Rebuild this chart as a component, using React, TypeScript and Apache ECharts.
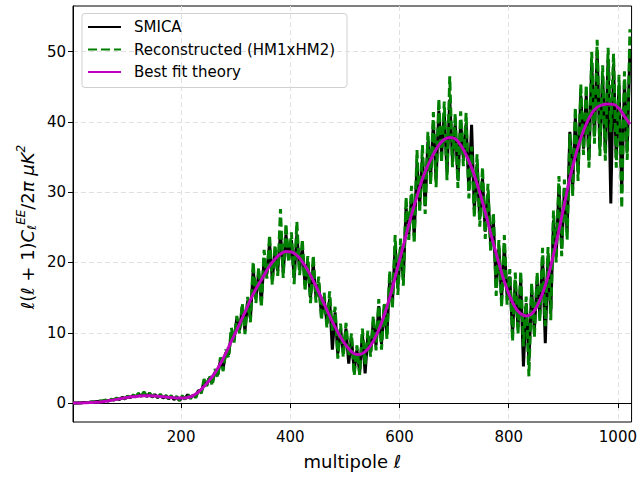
import React, { useEffect, useRef } from "react";
import * as echarts from "echarts";

const ELL_START = 2;
const DATA_STEP = 5;
const THEORY_STEP = 10;

const X_TICKS = [200, 400, 600, 800, 1000];
const Y_TICKS = [0, 10, 20, 30, 40, 50];

const SMICA = [
  0.0, 0.01, 0.02, 0.04, 0.06, 0.08, 0.1, 0.14, 0.17, 0.22, 0.27, 0.3,
  0.38, 0.28, 0.5, 0.42, 0.66, 0.5, 0.8, 0.6, 0.95, 0.75, 1.1, 0.85, 1.3, 0.95, 1.45, 0.9, 1.35, 0.85, 1.2, 0.75, 1.15, 0.7, 1.0, 0.6, 0.95, 0.5, 0.85, 0.35,
  0.9, 0.6, 1.2, 0.7, 1.1, 0.9, 1.8, 1.6, 3.0, 2.6, 3.6, 2.9, 4.4, 4.0, 6.1, 5.0, 7.2, 6.9, 9.9, 9.0,
  12.0, 10.4, 13.6, 10.3, 14.6, 12.0, 19.0, 15.0, 18.4, 14.4, 20.6, 18.3, 22.8, 17.6, 21.4, 18.8, 24.2, 18.6, 24.0, 20.4, 23.2, 17.8, 24.0, 18.9, 22.1, 16.8, 20.0, 15.0, 19.8, 15.1,
  16.9, 12.6, 14.8, 11.4, 14.8, 7.6, 12.9, 7.0, 10.6, 7.2, 10.6, 5.6, 9.2, 4.6, 7.6, 4.3, 9.8, 4.2, 9.6, 7.2,
  11.6, 8.2, 13.8, 8.4, 13.4, 9.9, 17.6, 14.2, 22.4, 16.4, 22.2, 17.8, 27.8, 24.0, 29.4, 23.8, 34.2, 28.2, 35.0, 28.0,
  37.2, 32.2, 39.8, 31.8, 41.6, 35.2, 41.2, 32.8, 43.2, 34.6, 39.8, 31.8, 40.0, 34.8, 39.8, 30.2, 39.6, 27.6, 34.0, 26.2,
  32.0, 24.4, 29.8, 22.6, 25.8, 16.4, 22.0, 14.8, 22.4, 15.2, 18.0, 9.9, 17.4, 10.8, 17.6, 5.2, 14.2, 6.0, 16.0, 10.4,
  17.4, 12.6, 20.8, 8.5, 21.0, 12.8, 26.0, 21.0, 30.8, 22.0, 30.4, 24.4, 38.6, 30.4, 40.6, 32.8, 43.8, 36.2, 43.8, 34.6,
  48.4, 38.0, 50.0, 36.4, 46.6, 35.6, 48.8, 28.4, 48.2, 34.8, 45.2, 30.0, 45.8, 35.8, 50.4,
];

const RECONSTRUCTED = [
  0.0, 0.02, 0.03, 0.05, 0.07, 0.09, 0.12, 0.16, 0.2, 0.24, 0.3, 0.33,
  0.42, 0.3, 0.55, 0.45, 0.7, 0.52, 0.85, 0.62, 1.0, 0.8, 1.15, 0.9, 1.4, 1.0, 1.6, 0.95, 1.45, 0.9, 1.3, 0.8, 1.25, 0.75, 1.1, 0.65, 1.05, 0.55, 0.95, 0.4,
  1.06, 0.52, 1.35, 0.6, 1.28, 0.75, 2.07, 1.36, 3.43, 2.4, 3.97, 2.5, 4.85, 3.64, 6.5, 4.54, 7.61, 6.46, 10.7, 8.6,
  12.4, 9.9, 14.2, 9.8, 15.1, 11.5, 20.1, 14.2, 19.3, 13.6, 21.8, 17.7, 23.9, 16.8, 22.5, 18.1, 27.6, 17.8, 25.55, 20.0, 24.3, 16.9, 25.8, 18.2, 23.3, 15.9, 20.9, 14.2, 21.0, 14.3,
  18.0, 11.8, 15.7, 10.7, 15.9, 10.3, 13.7, 6.3, 11.3, 6.5, 11.4, 6.7, 9.9, 3.9, 8.2, 4.0, 10.6, 5.4, 10.3, 6.6,
  12.4, 7.5, 14.8, 7.6, 14.3, 9.1, 18.8, 13.4, 23.9, 15.4, 23.4, 16.7, 29.3, 23.2, 30.9, 22.7, 36.0, 27.1, 36.7, 26.9,
  38.6, 31.1, 41.4, 30.7, 43.3, 34.2, 42.9, 31.7, 46.5, 33.55, 41.2, 30.6, 41.5, 33.7, 41.3, 29.1, 36.5, 26.4, 35.4, 25.1,
  33.55, 23.35, 31.2, 21.45, 27.1, 15.25, 23.2, 13.65, 23.9, 14.0, 19.05, 8.8, 18.55, 9.8, 18.75, 8.05, 15.15, 3.8, 17.1, 9.35,
  18.6, 11.6, 22.1, 10.95, 22.2, 11.8, 27.4, 20.0, 32.3, 20.9, 31.8, 23.2, 38.3, 29.4, 42.1, 31.6, 45.4, 35.3, 45.3, 33.5,
  50.0, 36.9, 51.7, 35.15, 48.05, 34.5, 50.55, 38.55, 49.7, 33.5, 46.7, 27.7, 47.2, 34.6, 53.2,
];

const THEORY = [
  0.0, 0.01, 0.03, 0.06, 0.1, 0.15, 0.25, 0.38, 0.52, 0.66,
  0.8, 0.9, 0.98, 1.03, 1.04, 1.0, 0.94, 0.86, 0.78, 0.72,
  0.7, 0.78, 1.05, 1.6, 2.35, 3.25, 4.3, 5.6, 7.1, 8.8,
  10.4, 12.1, 13.8, 15.5, 16.9, 18.2, 19.5, 20.5, 21.2, 21.55,
  21.5, 21.0, 20.1, 18.9, 17.4, 15.8, 14.1, 12.4, 10.8, 9.4,
  8.2, 7.3, 6.9, 7.05, 7.7, 8.8, 10.4, 12.5, 15.0, 17.9,
  20.9, 23.9, 26.8, 29.4, 31.9, 33.8, 35.4, 36.7, 37.5, 37.8,
  37.6, 36.7, 35.3, 33.5, 31.2, 28.6, 25.7, 22.7, 19.9, 17.3,
  15.2, 13.6, 12.7, 12.4, 12.7, 13.8, 15.6, 18.0, 21.1, 24.6,
  28.3, 32.0, 35.1, 37.7, 39.7, 41.2, 42.1, 42.45, 42.55, 42.5,
  41.9, 40.8, 39.7,
];

const FONT = "DejaVu Sans";

function toPairs(values: number[], step: number) {
  return values.map((v, i) => [ELL_START + i * step, v]);
}

export default function App() {
  const ref = useRef<HTMLDivElement>(null);
  useEffect(() => {
    document.body.style.margin = "0";
    const chart = echarts.init(ref.current!, null, { renderer: "svg" });
    const option = {
      animation: false,
      backgroundColor: "#ffffff",
      textStyle: { fontFamily: FONT },
      grid: {
        left: 73,
        right: 7,
        top: 6,
        bottom: 57,
        show: true,
        borderColor: "#000",
        borderWidth: 1,
        backgroundColor: "transparent",
      },
      xAxis: {
        type: "value",
        min: 2,
        max: 1025,
        name: "multipole {i|ℓ}",
        nameLocation: "middle",
        nameGap: 30,
        nameTextStyle: {
          fontFamily: FONT,
          fontSize: 18,
          color: "#000",
          rich: { i: { fontFamily: FONT, fontSize: 18, fontStyle: "italic", color: "#000" } },
        },
        axisLine: { show: true, lineStyle: { color: "#000", width: 1 } },
        axisTick: { show: true, length: 5, lineStyle: { color: "#000" }, customValues: X_TICKS },
        axisLabel: {
          fontFamily: FONT,
          fontSize: 15,
          color: "#000",
          margin: 7,
          customValues: X_TICKS,
          formatter: (v: number) => String(v),
        },
        splitLine: { show: true, lineStyle: { color: "#e0e0e0", type: [5, 3], width: 1 } },
      },
      yAxis: {
        type: "value",
        min: -2.7,
        max: 56.5,
        axisLine: { show: true, lineStyle: { color: "#000", width: 1 } },
        axisTick: { show: true, length: 5, lineStyle: { color: "#000" }, customValues: Y_TICKS },
        axisLabel: {
          fontFamily: FONT,
          fontSize: 15,
          color: "#000",
          margin: 7,
          customValues: Y_TICKS,
          formatter: (v: number) => String(v),
        },
        splitLine: { show: true, lineStyle: { color: "#e0e0e0", type: [5, 3], width: 1 } },
      },
      legend: {
        orient: "vertical",
        left: 87,
        top: 18,
        itemWidth: 33,
        itemHeight: 14,
        itemGap: 4.5,
        padding: 0,
        selectedMode: false,
        itemStyle: { color: "rgba(0,0,0,0)", borderColor: "rgba(0,0,0,0)", borderWidth: 0 },
        textStyle: {
          fontFamily: FONT,
          fontSize: 15,
          color: "#000",
          lineHeight: 18,
          padding: [0, 0, 0, 8],
        },
        data: ["SMICA", "Reconstructed (HM1xHM2)", "Best fit theory"],
      },
      graphic: [
        {
          type: "rect",
          z: 0,
          shape: { x: 82, y: 13.5, width: 265, height: 74, r: 3 },
          style: { fill: "rgba(255,255,255,0.8)", stroke: "#d0d0d0", lineWidth: 1 },
        },
        {
          type: "text",
          x: 27,
          y: 227,
          rotation: Math.PI / 2,
          style: {
            text: "{i|ℓ}({i|ℓ} + 1){i|C}{sub|ℓ}{sup|EE}/2{i|π μK}{sup|2}",
            fontFamily: FONT,
            fontSize: 18,
            fill: "#000",
            align: "center",
            verticalAlign: "middle",
            rich: {
              i: { fontFamily: FONT, fontSize: 18, fontStyle: "italic", fill: "#000" },
              sup: { fontFamily: FONT, fontSize: 12, fontStyle: "italic", fill: "#000", padding: [0, 0, 12, 0] },
              sub: { fontFamily: FONT, fontSize: 12, fontStyle: "italic", fill: "#000", padding: [10, 0, 0, 0] },
            },
          },
        },
      ],
      series: [
        {
          name: "SMICA",
          type: "line",
          data: toPairs(SMICA, DATA_STEP),
          showSymbol: false,
          symbol: "none",
          color: "#000000",
          lineStyle: { color: "#000000", width: 3 },
          z: 2,
        },
        {
          name: "Reconstructed (HM1xHM2)",
          type: "line",
          data: toPairs(RECONSTRUCTED, DATA_STEP),
          showSymbol: false,
          symbol: "none",
          color: "#008000",
          lineStyle: { color: "#008000", width: 3, type: [9, 4] },
          z: 3,
        },
        {
          name: "Best fit theory",
          type: "line",
          data: toPairs(THEORY, THEORY_STEP),
          showSymbol: false,
          symbol: "none",
          smooth: 0.4,
          color: "#bf00bf",
          lineStyle: { color: "#bf00bf", width: 3 },
          z: 4,
        },
      ],
    };
    chart.setOption(option as any);
    return () => chart.dispose();
  }, []);
  return <div ref={ref} style={{ width: 640, height: 479 }} />;
}
